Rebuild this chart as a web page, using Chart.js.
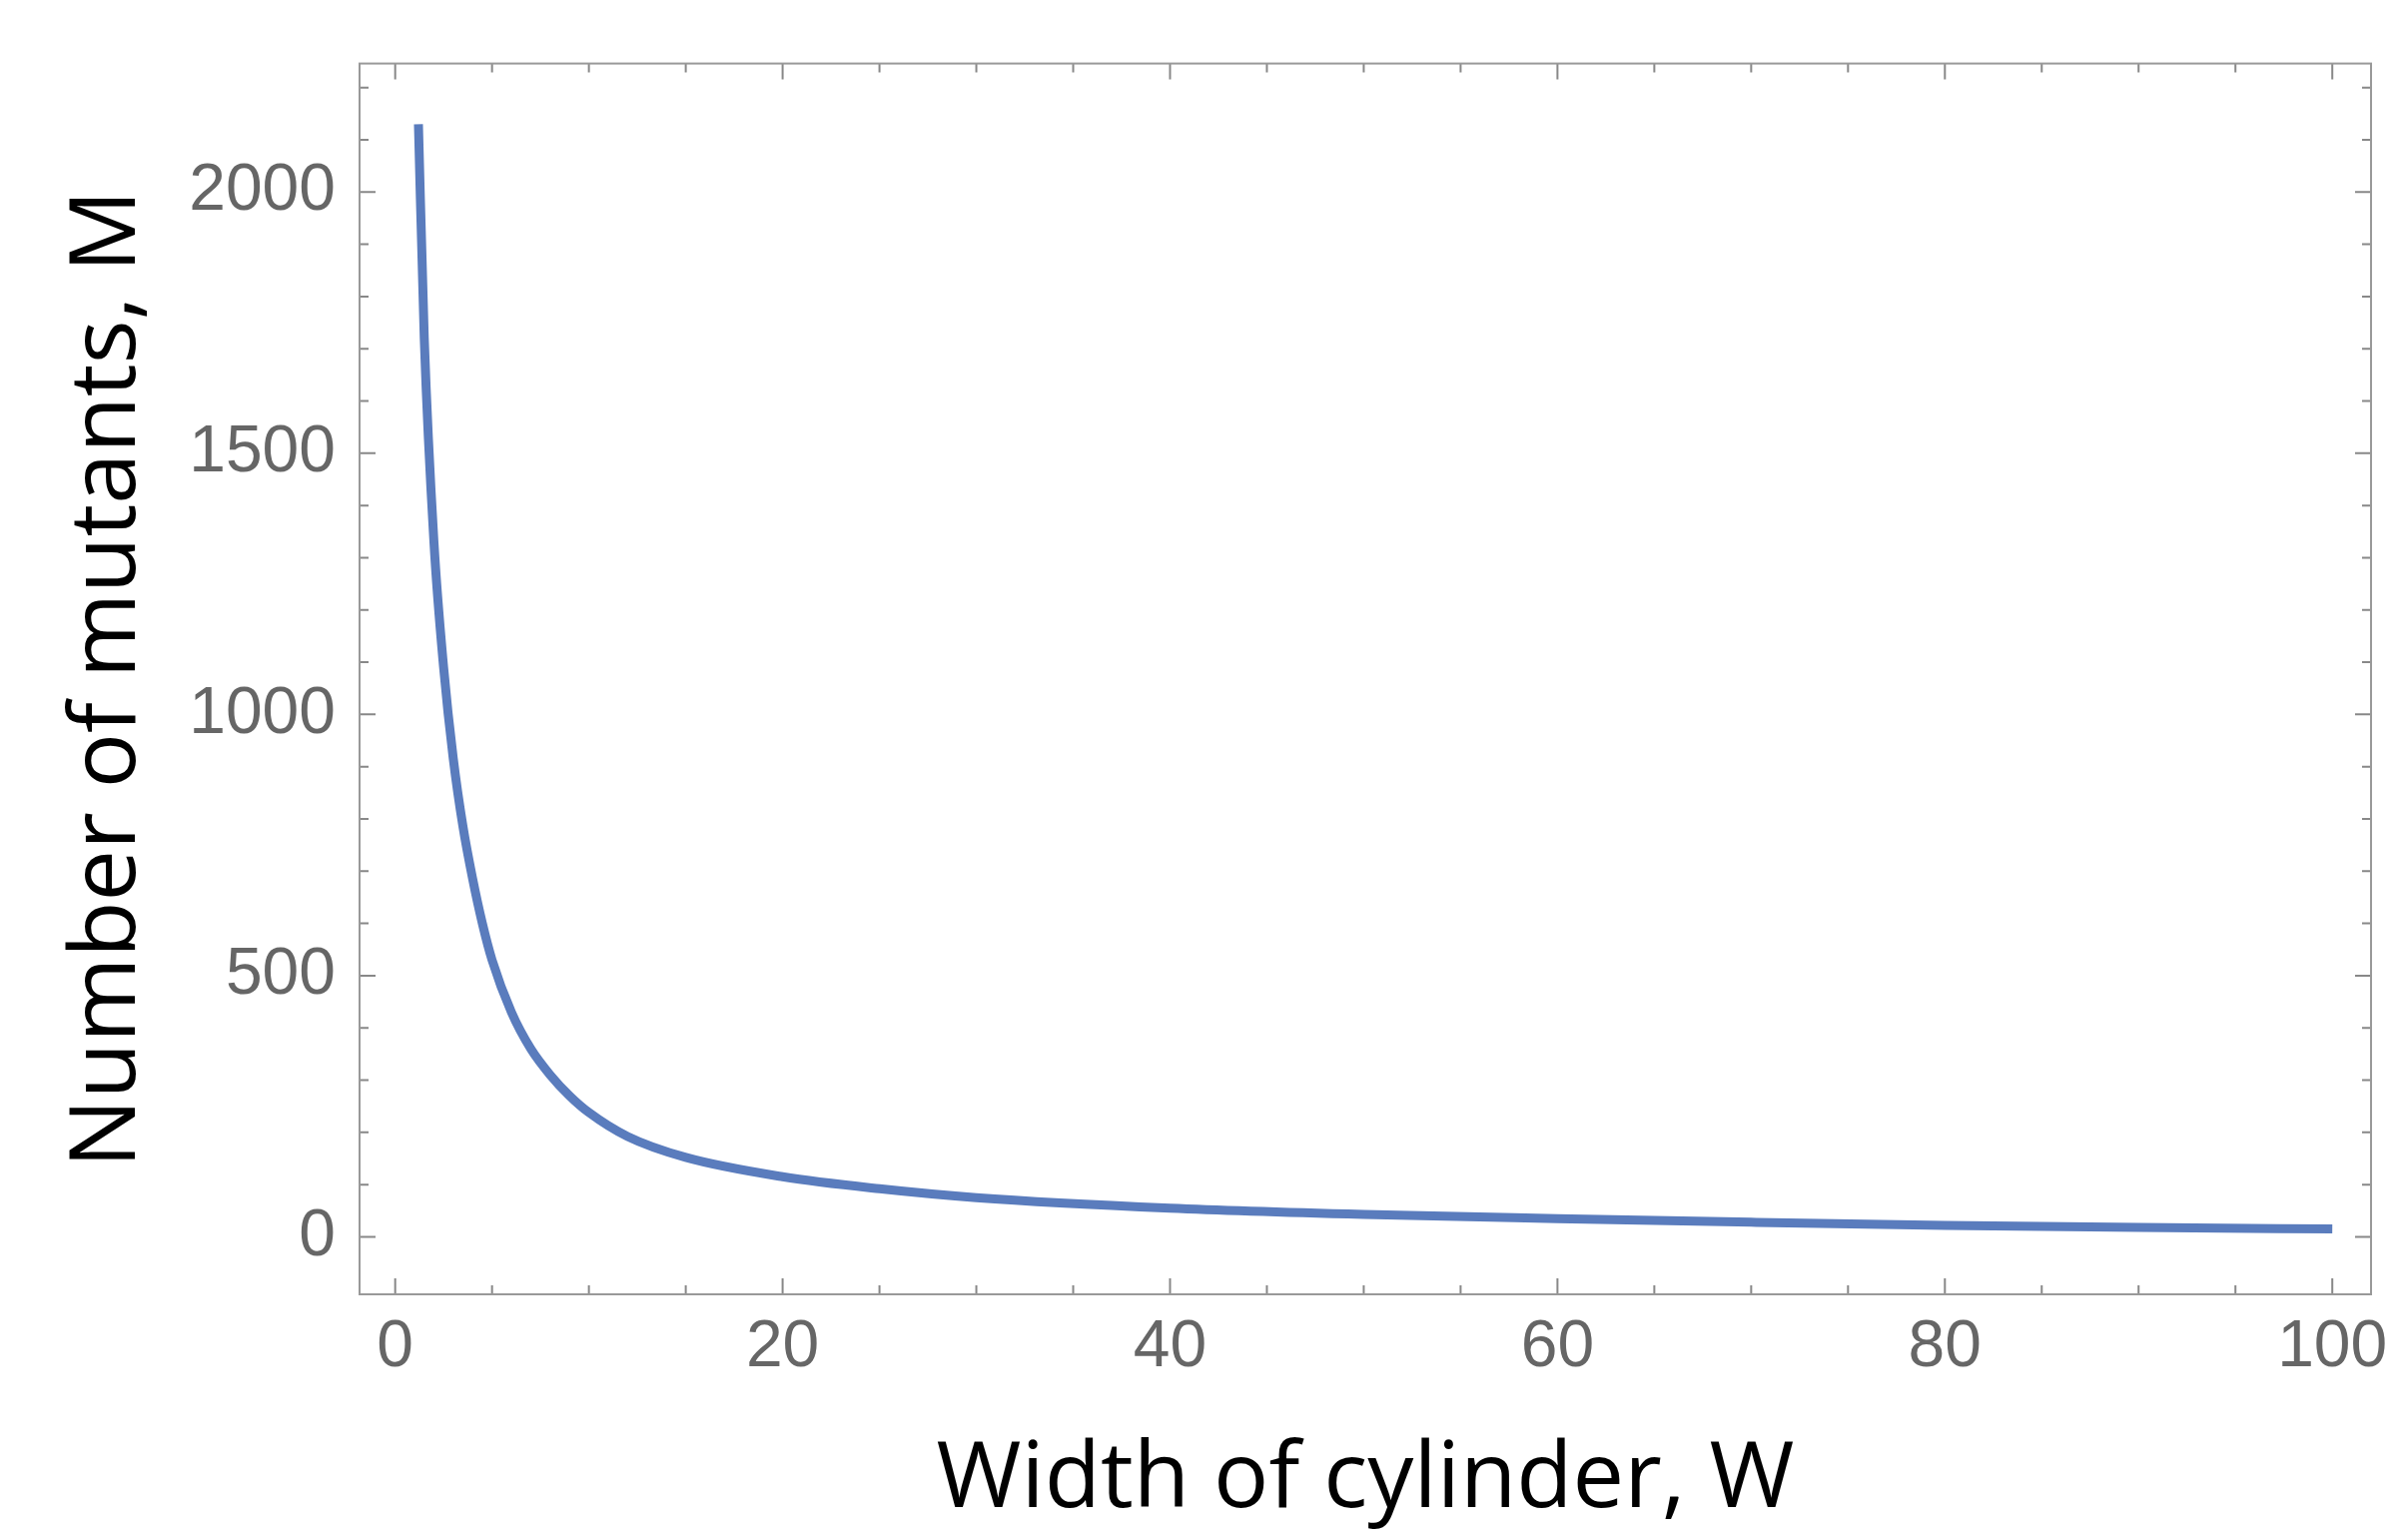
<!DOCTYPE html>
<html>
<head>
<meta charset="utf-8">
<script src="https://cdn.jsdelivr.net/npm/chart.js@4.4.1/dist/chart.umd.min.js"></script>
<style>
  html, body { margin: 0; padding: 0; background: #fff; }
  #wrap { width: 2405px; height: 1542px; }
</style>
</head>
<body>
<div id="wrap"><canvas id="chart"></canvas></div>
<script>
// values
const widthW = [1.2, 1.5, 2, 2.5, 3, 3.5, 4, 4.5, 5, 6, 7, 8, 9, 10, 12, 15, 20, 25, 30, 40, 50, 60, 70, 80, 90, 100];
const mutantsM = [2130, 1720, 1330, 1090, 915, 785, 685, 600, 530, 430, 360, 310, 270, 238, 192, 152, 115, 92, 75, 55, 43, 35, 28, 22, 18, 15];
const xTicks = [0, 20, 40, 60, 80, 100];
const yTicks = [0, 500, 1000, 1500, 2000];

const tickFont = { family: "Liberation Sans", size: 66 };
const titleFont = { family: "Open Sans", size: 92 };

// Mathematica-style frame ticks on all four sides
const frameTicks = {
  id: "frameTicks",
  afterDraw(chart) {
    const { ctx, chartArea: a, scales } = chart;
    ctx.save();
    ctx.strokeStyle = "#888";
    ctx.lineWidth = 2;
    for (let v = 0; v <= 100; v += 5) {
      const px = scales.x.getPixelForValue(v);
      const len = v % 20 === 0 ? 16 : 9;
      ctx.beginPath();
      ctx.moveTo(px, a.bottom); ctx.lineTo(px, a.bottom - len);
      ctx.moveTo(px, a.top); ctx.lineTo(px, a.top + len);
      ctx.stroke();
    }
    for (let v = 0; v <= 2200; v += 100) {
      const py = scales.y.getPixelForValue(v);
      const len = v % 500 === 0 ? 16 : 9;
      ctx.beginPath();
      ctx.moveTo(a.left, py); ctx.lineTo(a.left + len, py);
      ctx.moveTo(a.right, py); ctx.lineTo(a.right - len, py);
      ctx.stroke();
    }
    ctx.strokeStyle = "#999";
    ctx.strokeRect(a.left, a.top, a.right - a.left, a.bottom - a.top);
    ctx.restore();
  }
};

new Chart(document.getElementById("chart"), {
  type: "line",
  data: {
    datasets: [{
      data: widthW.map((w, i) => ({ x: w, y: mutantsM[i] })),
      borderColor: "#5a7cbd",
      borderWidth: 9,
      pointRadius: 0,
      cubicInterpolationMode: "monotone",
      fill: false
    }]
  },
  options: {
    responsive: true,
    maintainAspectRatio: false,
    animation: false,
    layout: { padding: { top: 62, right: 31, left: 50, bottom: 0 } },
    plugins: { legend: { display: false }, tooltip: { enabled: false } },
    scales: {
      x: {
        type: "linear", min: -1.84, max: 102,
        grid: { display: false, drawTicks: false },
        border: { display: false },
        afterBuildTicks: s => { s.ticks = xTicks.map(v => ({ value: v })); },
        afterFit: s => { s.height = 246; },
        ticks: { font: tickFont, color: "#666", padding: 14, maxRotation: 0, callback: v => String(v) },
        title: { display: true, text: "Width of cylinder, W", font: titleFont, color: "#000", padding: { top: 0 } }
      },
      y: {
        type: "linear", min: -110, max: 2246,
        grid: { display: false, drawTicks: false },
        border: { display: false },
        afterBuildTicks: s => { s.ticks = yTicks.map(v => ({ value: v })); },
        afterFit: s => { s.width = 310; },
        ticks: { font: tickFont, color: "#666", padding: 24, callback: v => String(v) },
        title: { display: true, text: "Number of mutants, M", font: titleFont, color: "#000", padding: { bottom: 0 } }
      }
    }
  },
  plugins: [frameTicks]
});
</script>
</body>
</html>
